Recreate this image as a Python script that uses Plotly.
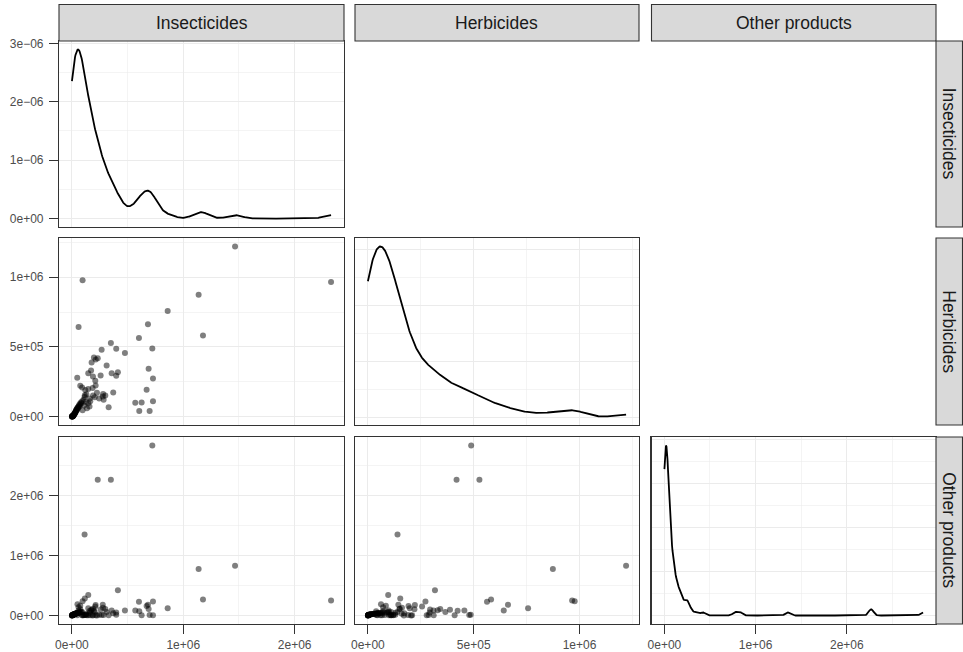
import numpy as np
import plotly.graph_objects as go

# ---------------- data (thousands of units) ----------------
VARS = ["Insecticides", "Herbicides", "Other products"]

insecticides = [
    722, 350, 232, 114, 1465, 1138, 2327, 96, 1177, 860, 683, 60, 602, 413, 728, 476, 689, 147, 116,
    626, 698, 569, 605, 728, 671, 398, 267, 198, 214, 177, 312, 172, 147, 357, 398, 258, 189, 48,
    210, 75, 213, 186, 147, 92, 371, 280, 205, 277, 285, 330, 158, 96,
    105, 110, 125, 130, 135, 160, 165, 190, 225, 245, 120, 300,
    0.5, 1, 1.5, 2, 3, 4, 5, 6, 7, 8, 9, 10, 11, 12, 14, 15, 17, 19, 21, 23, 25, 27, 29, 31, 33,
    35, 37, 40, 42, 45, 48, 50, 53, 56, 60, 63, 66, 70, 75, 80, 85, 92,
]
herbicides = [
    488, 527, 419, 140, 1220, 874, 965, 977, 582, 757, 662, 642, 563, 317, 272, 456, 342, 96, 153,
    100, 40, 98, 39, 110, 192, 486, 479, 424, 410, 388, 366, 330, 311, 310, 292, 294, 287, 278,
    256, 220, 222, 204, 198, 209, 172, 161, 139, 144, 120, 67, 72, 45,
    120, 80, 105, 160, 60, 130, 110, 150, 170, 130, 190, 150,
    0.2, 0.3, 0.5, 0.8, 1, 1.5, 1, 2, 3, 2.5, 4, 5, 4, 7, 9, 8, 12, 14, 18, 16, 22, 25, 28, 32, 30,
    38, 45, 42, 50, 55, 48, 62, 66, 60, 72, 80, 70, 90, 85, 100, 95, 110,
]
other_products = [
    2836, 2266, 2266, 1352, 830, 776, 250, 240, 266, 122, 178, 83, 231, 421, 233, 83, 111, 344, 285,
    4, 8, 83, 70, 5, 160, 12, 7, 80, 3, 95, 60, 90, 6, 85, 50, 100, 9, 5,
    150, 105, 175, 2, 120, 6, 40, 130, 60, 178, 8, 4, 75, 5,
    3, 8, 12, 30, 5, 45, 6, 115, 2, 13, 7, 110,
    0.5, 1, 2, 3, 4, 5, 6, 7, 8, 9, 10, 12, 13, 15, 16, 18, 19, 21, 22, 24, 25, 27, 28, 30, 31,
    33, 35, 36, 38, 40, 42, 190, 44, 46, 140, 48, 50, 52, 165, 55, 58, 60,
]

# axis tick values (major / minor) in data units
X_MAJOR = {
    "Insecticides": [0, 1e6, 2e6],
    "Herbicides": [0, 5e5, 1e6],
    "Other products": [0, 1e6, 2e6],
}
X_MINOR = {
    "Insecticides": [-5e5, 5e5, 1.5e6, 2.5e6],
    "Herbicides": [-2.5e5, 2.5e5, 7.5e5, 1.25e6],
    "Other products": [-5e5, 5e5, 1.5e6, 2.5e6],
}

data = {
    "Insecticides": np.array(insecticides, float) * 1000,
    "Herbicides": np.array(herbicides, float) * 1000,
    "Other products": np.array(other_products, float) * 1000,
}


def fmt(v):
    s = f"{v:.0e}"
    return s.replace("-", "\u2212")


def expand(lo, hi, m=0.05):
    d = hi - lo
    return [lo - m * d, hi + m * d]


def kde(v, npts=512):
    n = len(v)
    sd = np.std(v, ddof=1)
    q75, q25 = np.percentile(v, [75, 25])
    bw = 0.9 * min(sd, (q75 - q25) / 1.34) * n ** -0.2
    xs = np.linspace(v.min(), v.max(), npts)
    d = np.exp(-0.5 * ((xs[:, None] - v[None, :]) / bw) ** 2).sum(1) / (n * bw * np.sqrt(2 * np.pi))
    return xs, d


def nice_step(dmax):
    k = 10 ** np.floor(np.log10(dmax))
    for q in [1, 2, 2.5, 5, 10]:
        if dmax / (q * k) <= 4:
            return q * k
    return 10 * k


# ---------------- layout geometry (screen pixels) ----------------
W, H = 963, 652
COLS = [(59, 344), (355, 639), (651.5, 936)]
ROWS = [(41, 227), (238, 425), (437, 624)]
L = COLS[0][0]
R = W - COLS[2][1]
T = ROWS[0][0]
B = H - ROWS[2][1]
PW, PH = W - L - R, H - T - B


def px_x(p):
    return (p - L) / PW


def px_y(p):
    return (H - B - p) / PH


def xdom(c):
    return [px_x(COLS[c][0]), px_x(COLS[c][1])]


def ydom(r):
    return [px_y(ROWS[r][1]), px_y(ROWS[r][0])]


FONT = "Liberation Sans, Arial, Helvetica, sans-serif"
GRID = "#EBEBEB"
BORDER = "#333333"

fig = go.Figure()
layout = {}
ax_i = 0

for r in range(3):
    for c in range(r + 1):
        ax_i += 1
        xs_name = "x" if ax_i == 1 else f"x{ax_i}"
        ys_name = "y" if ax_i == 1 else f"y{ax_i}"
        xv, yv = VARS[c], VARS[r]
        xdat = data[xv]
        xr = expand(xdat.min(), xdat.max())
        if r == c:
            gx, gy = kde(xdat)
            fig.add_trace(go.Scatter(x=gx, y=gy, mode="lines", line=dict(color="black", width=1.8),
                                     xaxis=xs_name, yaxis=ys_name, showlegend=False, hoverinfo="skip"))
            yr = expand(gy.min(), gy.max())
            step = nice_step(gy.max())
            ymaj = list(np.arange(0, gy.max() * 1.2 + step, step))
            ymin = [v + step / 2 for v in ymaj] + [-step / 2]
        else:
            ydat = data[yv]
            fig.add_trace(go.Scatter(x=xdat, y=ydat, mode="markers",
                                     marker=dict(color="rgba(0,0,0,0.5)", size=6, line=dict(width=0)),
                                     xaxis=xs_name, yaxis=ys_name, showlegend=False, hoverinfo="skip"))
            yr = expand(ydat.min(), ydat.max())
            ymaj = X_MAJOR[yv]
            ymin = X_MINOR[yv]

        bottom = (r == 2)
        left = (c == 0)
        xax = dict(domain=xdom(c), range=xr, anchor=ys_name,
                   showline=True, mirror=True, linecolor=BORDER, linewidth=1.1,
                   zeroline=False, showgrid=True, gridcolor=GRID, gridwidth=1.1,
                   tickvals=X_MAJOR[xv], ticktext=[fmt(v) for v in X_MAJOR[xv]],
                   showticklabels=bottom, ticks="outside" if bottom else "",
                   ticklen=9, tickwidth=1.1, tickcolor=BORDER,
                   tickfont=dict(size=12, color="#4D4D4D", family=FONT),
                   minor=dict(tickvals=X_MINOR[xv], showgrid=True, gridcolor=GRID, gridwidth=0.55, ticks=""))
        yax = dict(domain=ydom(r), range=yr, anchor=xs_name,
                   showline=True, mirror=True, linecolor=BORDER, linewidth=1.1,
                   zeroline=False, showgrid=True, gridcolor=GRID, gridwidth=1.1,
                   tickvals=ymaj, ticktext=[fmt(v) for v in ymaj],
                   showticklabels=left, ticks="outside" if left else "",
                   ticklen=9, tickwidth=1.1, tickcolor=BORDER, ticklabelstandoff=3,
                   tickfont=dict(size=12, color="#4D4D4D", family=FONT),
                   minor=dict(tickvals=ymin, showgrid=True, gridcolor=GRID, gridwidth=0.55, ticks=""))
        layout["xaxis" if ax_i == 1 else f"xaxis{ax_i}"] = xax
        layout["yaxis" if ax_i == 1 else f"yaxis{ax_i}"] = yax

shapes, annotations = [], []
STRIP_FILL = "#D9D9D9"
# top strips
for c, name in enumerate(VARS):
    x0, x1 = px_x(COLS[c][0]), px_x(COLS[c][1])
    y0, y1 = px_y(41), px_y(4.5)
    shapes.append(dict(type="rect", xref="paper", yref="paper", x0=x0, x1=x1, y0=y0, y1=y1,
                       fillcolor=STRIP_FILL, line=dict(color=BORDER, width=1.1), layer="above"))
    annotations.append(dict(xref="paper", yref="paper", x=(x0 + x1) / 2, y=(y0 + y1) / 2,
                            text=name, showarrow=False, xanchor="center", yanchor="middle",
                            font=dict(size=17.5, color="#1A1A1A", family=FONT)))
# right strips
for r, name in enumerate(VARS):
    x0, x1 = px_x(936), px_x(962.5)
    y0, y1 = px_y(ROWS[r][1]), px_y(ROWS[r][0])
    shapes.append(dict(type="rect", xref="paper", yref="paper", x0=x0, x1=x1, y0=y0, y1=y1,
                       fillcolor=STRIP_FILL, line=dict(color=BORDER, width=1.1), layer="above"))
    annotations.append(dict(xref="paper", yref="paper", x=(x0 + x1) / 2, y=(y0 + y1) / 2,
                            text=name, showarrow=False, xanchor="center", yanchor="middle", textangle=90,
                            font=dict(size=17.5, color="#1A1A1A", family=FONT)))

fig.update_layout(
    width=W, height=H, margin=dict(l=L, r=R, t=T, b=B, autoexpand=False),
    paper_bgcolor="white", plot_bgcolor="white",
    font=dict(family=FONT), shapes=shapes, annotations=annotations, showlegend=False,
    **layout,
)
fig.write_html("out.html", config={"displayModeBar": False, "staticPlot": True},
               post_script="document.body.style.margin='0';document.body.style.overflow='hidden';")
